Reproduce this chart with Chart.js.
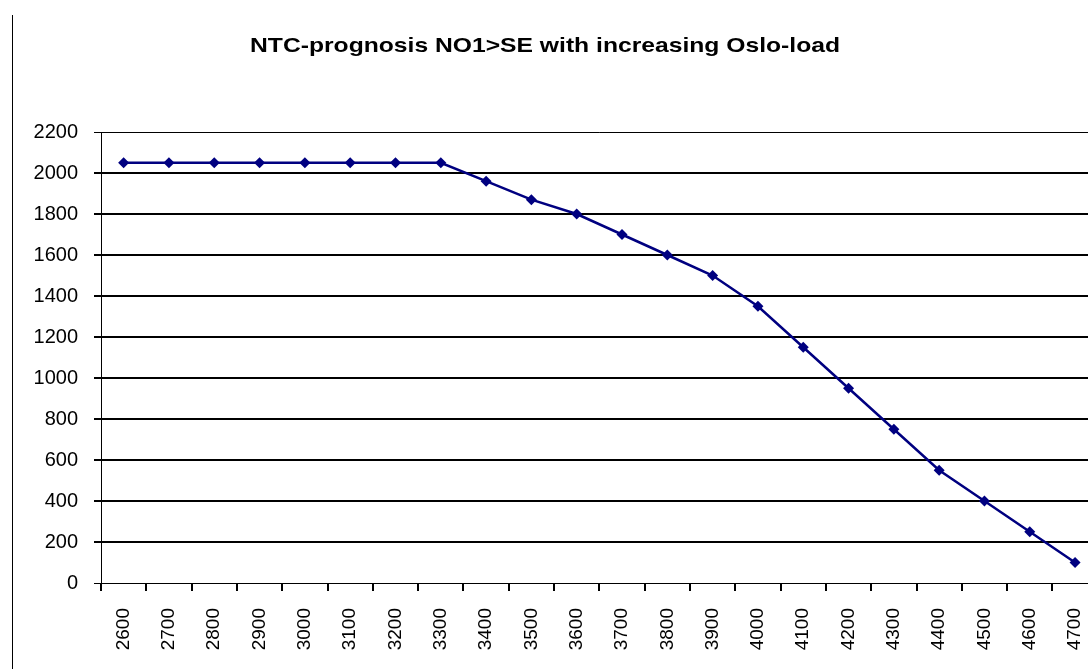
<!DOCTYPE html>
<html>
<head>
<meta charset="utf-8">
<script src="https://cdn.jsdelivr.net/npm/chart.js@4"></script>
<style>
  html, body { margin: 0; padding: 0; background: #fff; overflow: hidden; width: 1088px; height: 669px; }
  #wrap { position: absolute; left: 0; top: 0; width: 1115px; height: 669px; }
  #frame { position: absolute; left: 12px; top: 15px; width: 1px; height: 660px; background: #000; }
</style>
</head>
<body>
<div id="frame"></div>
<div id="wrap"><canvas id="c"></canvas></div>
<script>
const categories = ['2600','2700','2800','2900','3000','3100','3200','3300','3400','3500','3600',
                    '3700','3800','3900','4000','4100','4200','4300','4400','4500','4600','4700'];
const ntcValues = [2050, 2050, 2050, 2050, 2050, 2050, 2050, 2050, 1960, 1870, 1800,
                   1700, 1600, 1500, 1350, 1150, 950, 750, 550, 400, 250, 100];
const yTicks = [0, 200, 400, 600, 800, 1000, 1200, 1400, 1600, 1800, 2000, 2200];
const titleText = 'NTC-prognosis NO1>SE with increasing Oslo-load';

const FONT = "'Liberation Sans', Arial, sans-serif";

// Draws the chart title as canvas text, slightly widened like the reference.
const wideTitle = {
  id: 'wideTitle',
  afterDraw(chart, args, opts) {
    const ctx = chart.ctx;
    ctx.save();
    ctx.font = 'bold 21px ' + FONT;
    ctx.fillStyle = '#000';
    ctx.textAlign = 'center';
    ctx.textBaseline = 'alphabetic';
    const w = ctx.measureText(opts.text).width;
    const sx = opts.targetWidth / w;
    ctx.translate(opts.centerX, opts.baselineY);
    ctx.scale(sx, 1);
    ctx.fillText(opts.text, 0, 0);
    ctx.restore();
  }
};

new Chart(document.getElementById('c'), {
  type: 'line',
  data: {
    labels: categories,
    datasets: [{
      label: 'NTC',
      data: ntcValues,
      borderColor: '#000080',
      backgroundColor: '#000080',
      borderWidth: 2.5,
      pointStyle: 'rectRot',
      pointRadius: 5.5,
      pointBorderWidth: 0,
      pointBackgroundColor: '#000080',
      tension: 0
    }]
  },
  plugins: [wideTitle],
  options: {
    responsive: true,
    maintainAspectRatio: false,
    animation: false,
    layout: { padding: { top: 132, left: 0, right: 0, bottom: 0 } },
    plugins: {
      legend: { display: false },
      tooltip: { enabled: false },
      title: { display: false },
      wideTitle: { text: titleText, centerX: 545, baselineY: 52, targetWidth: 590 }
    },
    scales: {
      x: {
        type: 'category',
        offset: true,
        grid: {
          offset: true,
          drawOnChartArea: false,
          drawTicks: true,
          tickLength: 8,
          lineWidth: 2,
          color: '#000'
        },
        border: { display: true, color: '#000', width: 1 },
        ticks: {
          color: '#000',
          font: { family: FONT, size: 19 },
          minRotation: 90,
          maxRotation: 90,
          autoSkip: false,
          padding: 17
        },
        afterFit(scale) { scale.height = 669 - 583; }
      },
      y: {
        min: 0,
        max: 2200,
        afterBuildTicks(scale) { scale.ticks = yTicks.map(v => ({ value: v })); },
        grid: {
          color: '#000',
          lineWidth: ctx => (ctx.tick && (ctx.tick.value === 0 || ctx.tick.value === 2200)) ? 1 : 2,
          drawTicks: true,
          tickLength: 7
        },
        border: { display: true, color: '#000', width: 1 },
        ticks: {
          color: '#000',
          font: { family: FONT, size: 20 },
          padding: 16,
          callback: v => String(v)
        },
        afterFit(scale) { scale.width = 101; }
      }
    }
  }
});
</script>
</body>
</html>
